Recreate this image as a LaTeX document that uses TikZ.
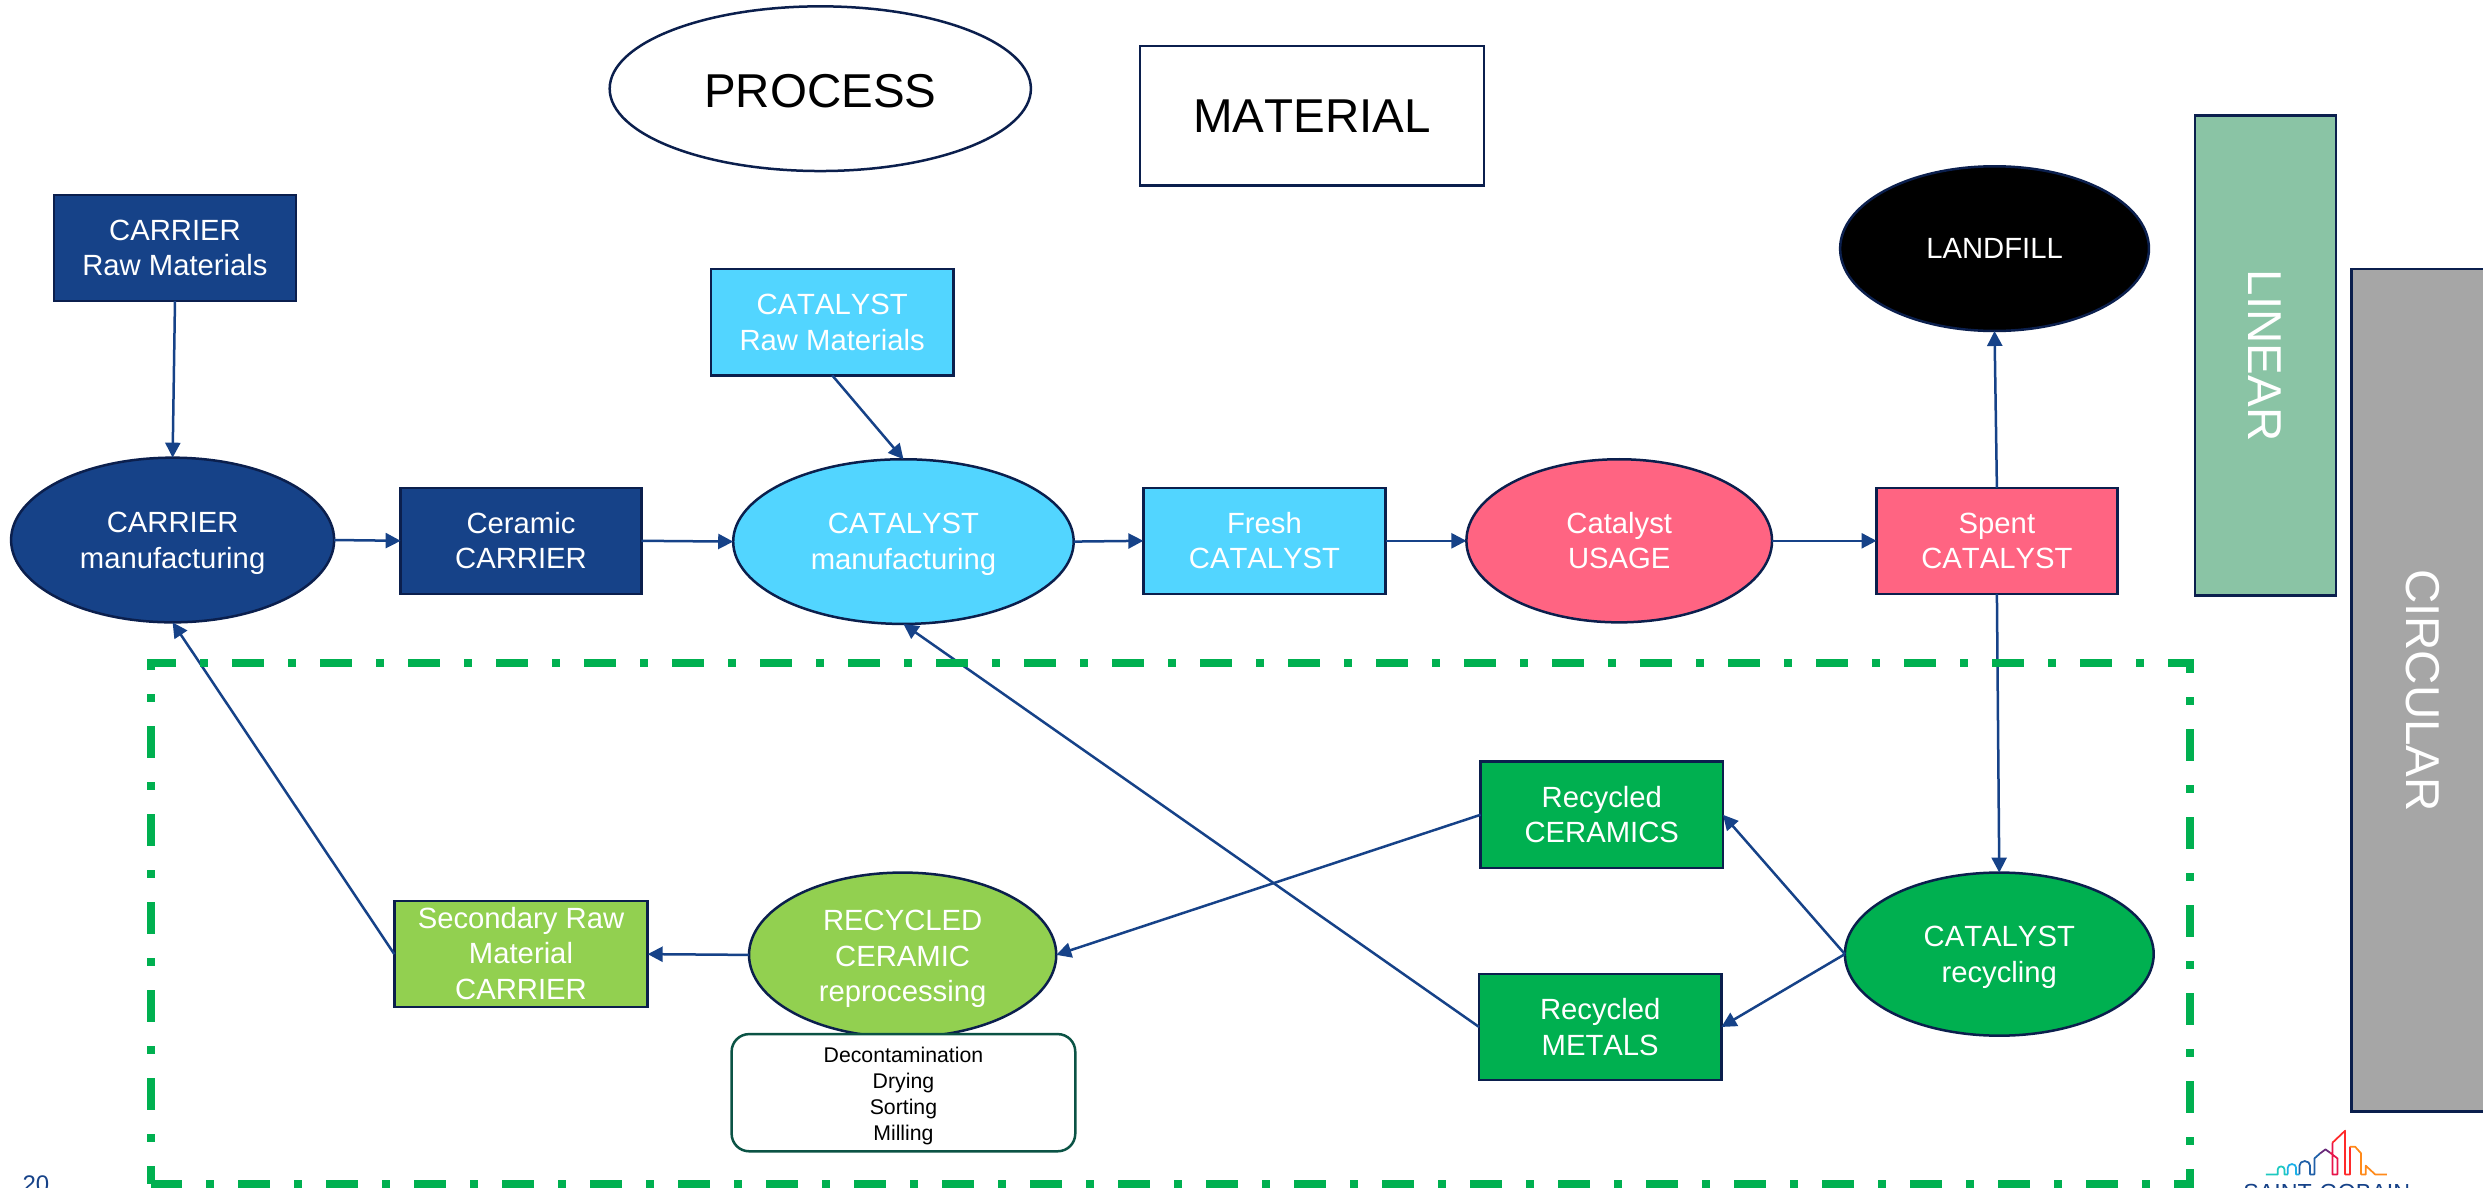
\documentclass[tikz,border=0pt]{standalone}
\usepackage{fontspec}
\setmainfont[Kerning=Off]{Liberation Sans}
\usetikzlibrary{shapes.geometric,arrows.meta}
\definecolor{navy}{HTML}{0B1F4D}
\definecolor{sgblue}{HTML}{164288}
\definecolor{cyanfill}{HTML}{52D5FF}
\definecolor{pinkfill}{HTML}{FF6482}
\definecolor{gfill}{HTML}{00B050}
\definecolor{lgfill}{HTML}{92D050}
\definecolor{linfill}{HTML}{8AC4A5}
\definecolor{cirfill}{HTML}{A6A6A6}
\definecolor{roundline}{HTML}{0B5345}
\tikzset{
  sz/.style 2 args={minimum width=#1*0.6334pt, minimum height=#2*0.6334pt},
  struts/.style 2 args={execute at begin node={\rule{0pt}{#1}}, execute at end node={\rule[-#2]{0pt}{#2}}},
  onel/.style={struts={10.5pt}{2.3pt}},
  twol/.style={struts={25pt}{2.5pt}},
  threel/.style={struts={40pt}{2.5pt}},
  base/.style={draw=navy, line width=1pt, inner sep=0pt, outer sep=0pt, align=center, text=white,
    font=\fontsize{11.7}{14.3}\selectfont},
  boxs/.style={base, rectangle},
  ell/.style={base, ellipse},
  big/.style={draw=navy, text=black, font=\fontsize{19}{22}\selectfont},
  side/.style={base, rectangle, rotate=-90, font=\fontsize{19}{22}\selectfont, struts={15.6pt}{2.3pt}},
  link/.style={draw=sgblue, line width=1pt, -{Triangle[length=6pt,width=6pt]}},
  framel/.style={gfill, line width=3.2pt},
  logo/.style={line width=0.7pt, line join=round}
}
\begin{document}
\begin{tikzpicture}[x=0.6334pt,y=-0.6334pt]
\clip (0,0) rectangle (1567.97,749.6);
\fill[white] (0,0) rectangle (1567.97,749.6);
% legend
\node[ell,big,fill=white,sz={266}{104},struts={17pt}{2.3pt}] (process) at (518,56) {PROCESS};
\node[boxs,big,fill=white,sz={217}{88},struts={15.6pt}{2.3pt}] (material) at (828.5,73) {MATERIAL};
% side bars
\node[side,fill=linfill,sz={303}{89}] (linear) at (1430.5,224.5) {LINEAR};
\node[side,fill=cirfill,sz={532}{90}] (circular) at (1530,436) {CIRCULAR};
% rows
\node[boxs,twol,fill=sgblue,sz={153}{67}] (craw) at (110.5,156.5) {CARRIER\\Raw Materials};
\node[boxs,twol,fill=cyanfill,sz={153}{67}] (catraw) at (525.5,203.5) {CATALYST\\Raw Materials};
\node[ell,twol,fill=sgblue,sz={204}{104}] (cmfg) at (109,341) {CARRIER\\manufacturing};
\node[boxs,twol,fill=sgblue,sz={152}{67}] (ceramic) at (329,341.5) {Ceramic\\CARRIER};
\node[ell,twol,fill=cyanfill,sz={215}{104}] (catmfg) at (570.5,342) {CATALYST\\manufacturing};
\node[boxs,twol,fill=cyanfill,sz={153}{67}] (fresh) at (798.5,341.5) {Fresh\\CATALYST};
\node[ell,twol,fill=pinkfill,sz={193}{103}] (usage) at (1022.5,341.5) {Catalyst\\USAGE};
\node[boxs,twol,fill=pinkfill,sz={152}{67}] (spent) at (1261,341.5) {Spent\\CATALYST};
\node[ell,onel,fill=black,sz={195}{104}] (landfill) at (1259.5,157) {LANDFILL};
\node[boxs,twol,fill=gfill,sz={153}{67}] (recer) at (1011.5,514.5) {Recycled\\CERAMICS};
\node[boxs,twol,fill=gfill,sz={153}{67}] (remet) at (1010.5,648.5) {Recycled\\METALS};
\node[ell,twol,fill=gfill,sz={195}{103}] (catrec) at (1262.5,602.5) {CATALYST\\recycling};
\node[ell,threel,fill=lgfill,sz={194}{104}] (rcr) at (570,603) {RECYCLED\\CERAMIC\\reprocessing};
\node[boxs,struts={39pt}{2.5pt},fill=lgfill,sz={160}{67}] (sec) at (329,602.5) {Secondary Raw\\Material\\CARRIER};
\node[boxs,rounded corners=7pt,draw=roundline,fill=white,text=black,sz={217}{74},
  font=\fontsize{8.5}{10.3}\selectfont,struts={40pt}{2pt}] (steps) at (570.5,690) {Decontamination\\Drying\\Sorting\\Milling};
% connectors
\draw[link] (craw.south) -- (cmfg.north);
\draw[link] (cmfg.east) -- (ceramic.west);
\draw[link] (ceramic.east) -- (catmfg.west);
\draw[link] (catraw.south) -- (catmfg.north);
\draw[link] (catmfg.east) -- (fresh.west);
\draw[link] (fresh.east) -- (usage.west);
\draw[link] (usage.east) -- (spent.west);
\draw[link] (spent.north) -- (landfill.south);
\draw[link] (spent.south) -- (catrec.north);
\draw[link] (catrec.west) -- (recer.east);
\draw[link] (catrec.west) -- (remet.east);
\draw[link] (recer.west) -- (rcr.east);
\draw[link] (remet.west) -- (catmfg.south);
\draw[link] (rcr.west) -- (sec.east);
\draw[link] (sec.west) -- (cmfg.south);
% dash-dot frame, in reference pixels
\begin{scope}[x=0.4pt,y=-0.4pt]
\draw[framel,dash pattern=on 12.8pt off 9.6pt on 3.2pt off 9.6pt] (151.3,670) -- (151.3,663) -- (2190.3,663) -- (2190.3,1184.3) -- (151.3,1184.3);
\draw[framel,dash pattern=on 3.2pt off 9.6pt on 12.8pt off 9.6pt] (151.3,694) -- (151.3,1184.3);
\end{scope}
% page number
\node[anchor=base west,inner sep=0pt,text=sgblue,font=\fontsize{9.6}{11}\selectfont] (pnum) at (13.9,753) {20};
% logo
\begin{scope}[xshift=840pt,yshift=-400pt,x=0.13333pt,y=-0.13333pt]
\draw[logo,color={rgb,255:red,31;green,201;blue,192}] (497,523) -- (533,523) -- (533,508) arc[start angle=180,end angle=0,x radius=10,y radius=-9] -- (553,523) -- (563,523);
\draw[logo,color={rgb,255:red,28;green,176;blue,232}] (563,523) -- (563,503) arc[start angle=180,end angle=0,x radius=12.5,y radius=-11] -- (588,523) -- (598,523);
\draw[logo,color={rgb,255:red,32;green,96;blue,168}] (598,523) -- (598,497) arc[start angle=180,end angle=0,x radius=16,y radius=-14] -- (630,523) -- (643,523) -- (643,475) -- (660,460);
\draw[logo,color={rgb,255:red,106;green,42;blue,122}] (660,460) -- (676,448) -- (690,458);
\draw[logo,color={rgb,255:red,232;green,21;blue,74}] (690,458) -- (712,475) -- (712,523) -- (697,523) -- (697,428);
\draw[logo,color={rgb,255:red,255;green,42;blue,42}] (697,428) -- (735,392) -- (735,523) -- (750,523) -- (750,440);
\draw[logo,color={rgb,255:red,255;green,138;blue,26}] (750,440) -- (765,440) -- (783,460) -- (783,523) -- (797,523) -- (797,497) -- (825,523) -- (860,523);
\node[anchor=base,inner sep=0pt,text=sgblue,font=\fontsize{9.3}{10}\selectfont] (sg) at (680,600) {SAINT-GOBAIN};
\end{scope}
\end{tikzpicture}
\end{document}
